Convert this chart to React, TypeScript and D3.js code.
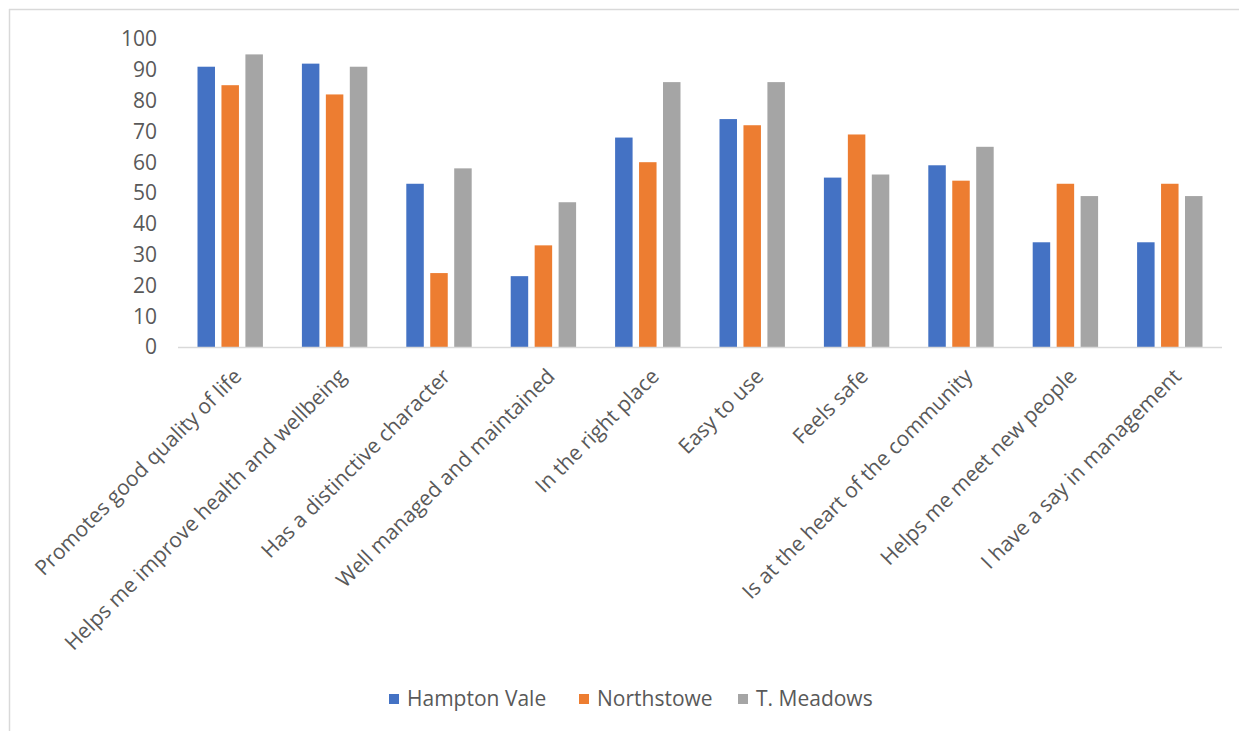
import React from "react";
import * as d3 from "d3";

const categories = [
  "Promotes good quality of life",
  "Helps me improve health and wellbeing",
  "Has a distinctive character",
  "Well managed and maintained",
  "In the right place",
  "Easy to use",
  "Feels safe",
  "Is at the heart of the community",
  "Helps me meet new people",
  "I have a say in management",
];
const seriesNames = ["Hampton Vale", "Northstowe", "T. Meadows"];
const hamptonVale = [91, 92, 53, 23, 68, 74, 55, 59, 34, 34];
const northstowe = [85, 82, 24, 33, 60, 72, 69, 54, 53, 53];
const tMeadows = [95, 91, 58, 47, 86, 86, 56, 65, 49, 49];
const yTicks = [0, 10, 20, 30, 40, 50, 60, 70, 80, 90, 100];
const colors = ["#4472C4", "#ED7D31", "#A5A5A5"];

const W = 1239;
const H = 731;
const plotLeft = 178;
const plotRight = 1222;
const plotTop = 39;
const plotBottom = 347;
const font = "'Open Sans', 'Noto Sans', sans-serif";
const textColor = "#595959";

export default function App() {
  const series = [hamptonVale, northstowe, tMeadows];
  const x0 = d3.scaleBand<string>().domain(categories).range([plotLeft, plotRight]).paddingInner(0).paddingOuter(0);
  const x1 = d3
    .scaleBand<number>()
    .domain([0, 1, 2])
    .range([19.5, x0.bandwidth() - 19.5])
    .paddingInner(0.27)
    .paddingOuter(0);
  const y = d3.scaleLinear().domain([0, 100]).range([plotBottom, plotTop]);

  const legendItems = [
    { x: 389, tx: 407 },
    { x: 579, tx: 597 },
    { x: 738, tx: 756 },
  ];

  return (
    <svg width={W} height={H} style={{ position: "absolute", left: 0, top: 0, background: "#fff" }}>
      <rect x={0} y={0} width={W} height={H} fill="#ffffff" />
      {/* panel border */}
      <line x1={9} y1={9.5} x2={W} y2={9.5} stroke="#d9d9d9" strokeWidth={1.5} />
      <line x1={9.5} y1={9} x2={9.5} y2={H} stroke="#d9d9d9" strokeWidth={1.5} />

      {/* y tick labels */}
      {yTicks.map((t) => (
        <text
          key={t}
          x={157}
          y={y(t)}
          dy="0.35em"
          textAnchor="end"
          fontFamily={font}
          fontSize={21}
          fill={textColor}
        >
          {t}
        </text>
      ))}

      {/* bars */}
      {categories.map((c, i) => (
        <g key={c} transform={`translate(${x0(c)},0)`}>
          {series.map((s, j) => (
            <rect
              key={j}
              x={x1(j)}
              y={y(s[i])}
              width={x1.bandwidth()}
              height={y(0) - y(s[i])}
              fill={colors[j]}
            />
          ))}
        </g>
      ))}

      {/* baseline */}
      <line x1={plotLeft} y1={plotBottom + 0.5} x2={plotRight} y2={plotBottom + 0.5} stroke="#d9d9d9" strokeWidth={1.5} />

      {/* x labels */}
      {categories.map((c) => {
        const cx = (x0(c) as number) + x0.bandwidth() / 2 + 7;
        const cy = 372;
        return (
          <text
            key={c}
            x={cx}
            y={cy}
            transform={`rotate(-45 ${cx} ${cy})`}
            textAnchor="end"
            dominantBaseline="central"
            fontFamily={font}
            fontSize={21}
            fill={textColor}
          >
            {c}
          </text>
        );
      })}

      {/* legend */}
      {seriesNames.map((n, j) => (
        <g key={n}>
          <rect x={legendItems[j].x} y={694} width={10} height={10} fill={colors[j]} />
          <text
            x={legendItems[j].tx}
            y={699}
            dy="0.35em"
            fontFamily={font}
            fontSize={21}
            fill={textColor}
          >
            {n}
          </text>
        </g>
      ))}
    </svg>
  );
}
